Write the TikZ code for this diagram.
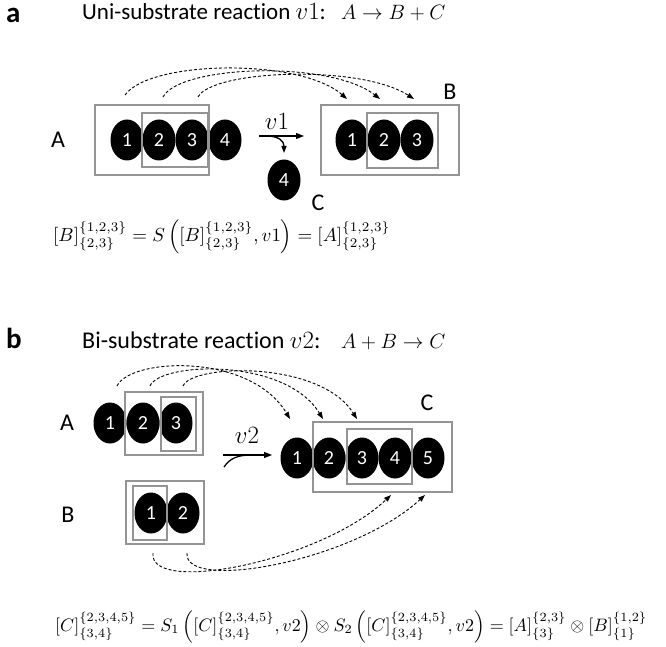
\documentclass[tikz,border=0pt]{standalone}
\usepackage{fontspec}
\setmainfont{Carlito}[Ligatures={NoCommon}]
\usepackage{amsmath}
\usepackage{graphicx}
\usetikzlibrary{shapes.geometric,arrows.meta}
\begin{document}
\begin{tikzpicture}[x=1pt,y=-1pt,
  ball/.style={ellipse, fill=black, minimum width=33pt, minimum height=41pt, inner sep=0pt, text=white, font=\fontsize{20}{20}\selectfont},
  gbox/.style={draw=black!42, line width=1.4pt},
  dasharc/.style={dash pattern=on 3pt off 2pt, line width=0.9pt, -{Triangle[length=7pt,width=5pt]}},
  rarrow/.style={line width=1.3pt, -{Triangle[length=8pt,width=6pt]}},
  lab/.style={font=\fontsize{24}{28}\selectfont},
  ttl/.style={font=\fontsize{23}{28}\selectfont, anchor=base west, inner sep=0pt},
  mttl/.style={font=\fontsize{21.5}{26}\selectfont, anchor=base west, inner sep=0pt},
  panel/.style={font=\fontsize{29}{34}\selectfont\bfseries, anchor=base west, inner sep=0pt}]
\useasboundingbox (0,0) rectangle (666,647);

% ---------------- panel a ----------------
\node[panel] (pa) at (6,23) {a};
\node[ttl] (ta) at (82,20) {Uni-substrate reaction $v1$:};
\node[mttl] (ma) at (341,20) {$A \rightarrow B + C$};

\node[ball] (a1) at (127,140) {1};
\node[ball] (a2) at (159,140) {2};
\node[ball] (a3) at (192,140) {3};
\node[ball] (a4) at (225,140) {4};
\draw[gbox] (95,105) rectangle (209,175);
\draw[gbox] (142,113) rectangle (208,167);
\node[lab] (lA) at (58,140) {A};

\node[ball] (b1) at (352,140) {1};
\node[ball] (b2) at (384,140) {2};
\node[ball] (b3) at (417,140) {3};
\draw[gbox] (321,105) rectangle (459,175);
\draw[gbox] (367,113) rectangle (438,168);
\node[lab] (lB) at (450,92) {B};

\node[ball] (c4) at (284,180) {4};
\node[lab] (lC) at (318,203) {C};

\coordinate (v1s) at (259,136);
\coordinate (v1e) at (304,136);
\coordinate (v1b) at (266,136);
\coordinate (v1c) at (284,153);
\draw[rarrow] (v1s) -- (v1e);
\draw[line width=1.3pt, -{Triangle[length=7pt,width=5pt]}] (v1b) .. controls (279,136) and (284,141) .. (v1c);
\node[lab] (v1) at (277,121) {$v1$};

\coordinate (sa1) at (125,95);
\coordinate (sa2) at (163,97);
\coordinate (sa3) at (198,97);
\coordinate (ea1) at (347,99);
\coordinate (ea2) at (380,99);
\coordinate (ea3) at (414,99);
\draw[dasharc] (sa1) .. controls (150,60) and (300,58) .. (ea1);
\draw[dasharc] (sa2) .. controls (180,65) and (330,60) .. (ea2);
\draw[dasharc] (sa3) .. controls (212,70) and (360,64) .. (ea3);

\node[anchor=base west, inner sep=0pt] (eqa) at (53,241) {\resizebox{337pt}{!}{$[B]^{\{1,2,3\}}_{\{2,3\}} = S\left([B]^{\{1,2,3\}}_{\{2,3\}}, v1\right) = [A]^{\{1,2,3\}}_{\{2,3\}}$}};

% ---------------- panel b ----------------
\node[panel] (pb) at (6,348) {b};
\node[ttl, font=\fontsize{24}{29}\selectfont] (tb) at (82,348) {Bi-substrate reaction $v2$:};
\node[mttl] (mb) at (341,348) {$A + B \rightarrow C$};

\node[ball] (A1) at (110,423) {1};
\node[ball] (A2) at (143,423) {2};
\node[ball] (A3) at (176,423) {3};
\draw[gbox] (125,392) rectangle (203,455);
\draw[gbox] (161,397) rectangle (196,451);
\node[lab] (LA) at (67,423) {A};

\node[ball] (B1) at (151,513) {1};
\node[ball] (B2) at (183,513) {2};
\draw[gbox] (126,481) rectangle (204,544);
\draw[gbox] (133,486) rectangle (167,540);
\node[lab] (LB) at (68,515) {B};

\node[ball] (C1) at (297,458) {1};
\node[ball] (C2) at (329,458) {2};
\node[ball] (C3) at (362,458) {3};
\node[ball] (C4) at (395,458) {4};
\node[ball] (C5) at (428,458) {5};
\draw[gbox] (313,422) rectangle (452,492);
\draw[gbox] (347,429) rectangle (412,484);
\node[lab] (LC) at (427,403) {C};

\coordinate (v2s) at (223,455);
\coordinate (v2e) at (272,455);
\coordinate (v2c) at (224,467);
\coordinate (v2m) at (252,455);
\draw[rarrow] (v2s) -- (v2e);
\draw[line width=1.3pt] (v2c) .. controls (230,458) and (238,455) .. (v2m);
\node[lab] (v2) at (247,435) {$v2$};

\coordinate (sb1) at (117,386);
\coordinate (sb2) at (150,386);
\coordinate (sb3) at (183,386);
\coordinate (eb1) at (290,419);
\coordinate (eb2) at (323,419);
\coordinate (eb3) at (357,419);
\draw[dasharc] (sb1) .. controls (130,358) and (250,352) .. (eb1);
\draw[dasharc] (sb2) .. controls (160,362) and (285,357) .. (eb2);
\draw[dasharc] (sb3) .. controls (192,364) and (320,360) .. (eb3);

\coordinate (sl1) at (153,553);
\coordinate (sl2) at (187,553);
\coordinate (el1) at (391,495);
\coordinate (el2) at (425,495);
\draw[dasharc] (sl1) .. controls (148,595) and (320,562) .. (el1);
\draw[dasharc] (sl2) .. controls (183,592) and (352,562) .. (el2);

\node[anchor=base west, inner sep=0pt] (eqb) at (55,631) {\resizebox{592pt}{!}{$[C]^{\{2,3,4,5\}}_{\{3,4\}} = S_1\left([C]^{\{2,3,4,5\}}_{\{3,4\}}, v2\right) \otimes S_2\left([C]^{\{2,3,4,5\}}_{\{3,4\}}, v2\right) = [A]^{\{2,3\}}_{\{3\}} \otimes [B]^{\{1,2\}}_{\{1\}}$}};
\end{tikzpicture}
\end{document}
